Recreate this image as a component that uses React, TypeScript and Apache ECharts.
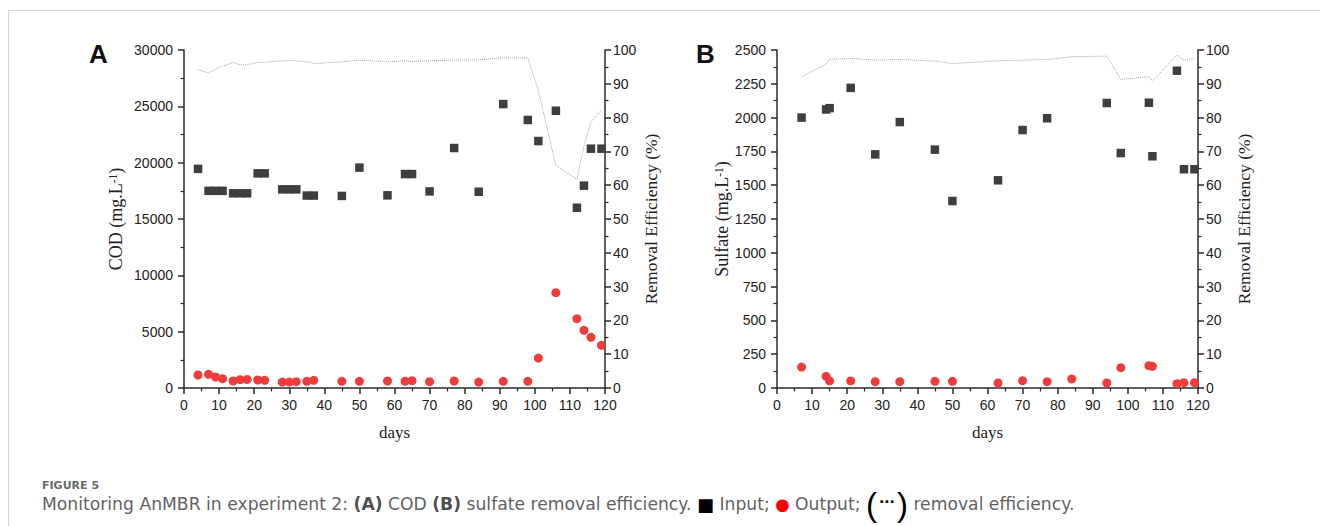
import React, { useEffect, useRef } from 'react';
import * as echarts from 'echarts';

// ---------- Panel A (COD) ----------
const daysA = [4, 7, 9, 11, 14, 16, 18, 21, 23, 28, 30, 32, 35, 37, 45, 50, 58, 63, 65, 70, 77, 84, 91, 98, 101, 106, 112, 114, 116, 119];
const inputA = [19450, 17500, 17500, 17500, 17280, 17280, 17280, 19050, 19050, 17630, 17630, 17630, 17080, 17080, 17050, 19560, 17100, 18990, 18990, 17450, 21300, 17420, 25200, 23790, 21920, 24610, 16000, 17960, 21240, 21240];
const outputA = [1155, 1210, 975, 825, 620, 740, 765, 710, 680, 530, 530, 560, 590, 680, 590, 590, 620, 590, 650, 560, 620, 530, 590, 590, 2660, 8460, 6150, 5120, 4500, 3790];
const effA = [94.2, 93.2, 94.4, 95.2, 96.3, 95.6, 95.6, 96.3, 96.4, 96.8, 96.9, 96.8, 96.5, 96.0, 96.5, 97.0, 96.5, 96.8, 96.6, 96.8, 97.0, 97.1, 97.7, 97.6, 88.0, 65.8, 61.8, 71.5, 78.8, 82.2];

// ---------- Panel B (Sulfate) ----------
const inDaysB = [7, 14, 15, 21, 28, 35, 45, 50, 63, 70, 77, 94, 98, 106, 107, 114, 116, 119];
const inputB = [2000, 2060, 2070, 2220, 1728, 1967, 1763, 1383, 1536, 1908, 1995, 2108, 1738, 2110, 1714, 2347, 1618, 1618];
const outDaysB = [7, 14, 15, 21, 28, 35, 45, 50, 63, 70, 77, 84, 94, 98, 106, 107, 114, 116, 119];
const outputB = [155, 86, 52, 52, 47, 47, 49, 49, 37, 54, 47, 67, 37, 150, 165, 160, 32, 39, 39];
const effB = [92.1, 95.8, 97.3, 97.5, 97.0, 97.2, 96.7, 96.0, 96.8, 97.0, 97.2, 98.0, 98.2, 91.3, 92.1, 90.8, 98.5, 97.0, 97.5];

// ---------- Axis settings ----------
const dayMin = 0, dayMax = 120, dayStep = 10;
const codMax = 30000, codStep = 5000;
const sulMax = 2500, sulStep = 250;
const effMax = 100, effStep = 10;

const pair = (xs: number[], ys: number[]) => xs.map((x, i) => [x, ys[i]]);

const AXIS_COLOR = '#2a2a2a';
const LABEL_FONT = 'Liberation Sans, Arial, sans-serif';
const NAME_FONT = 'Liberation Serif, Times New Roman, serif';
const plain = (v: number) => String(v);

const axisCommon = {
  axisLine: { show: true, onZero: false, lineStyle: { color: AXIS_COLOR, width: 1.5 } },
  axisTick: { show: true, inside: false, length: 6, lineStyle: { color: AXIS_COLOR, width: 1.5 } },
  minorTick: { show: true, splitNumber: 2, length: 3.5, lineStyle: { color: AXIS_COLOR, width: 1.2 } },
  splitLine: { show: false },
  minorSplitLine: { show: false },
};

const nameRich = {
  a: { fontFamily: NAME_FONT, fontSize: 18, color: '#222' },
  s: { fontFamily: NAME_FONT, fontSize: 11.5, color: '#222', verticalAlign: 'top' as const },
};

function xAxis(grid: number) {
  return {
    ...axisCommon,
    gridIndex: grid,
    type: 'value',
    min: dayMin,
    max: dayMax,
    interval: dayStep,
    name: 'days',
    nameLocation: 'middle',
    nameGap: 36,
    nameTextStyle: { fontFamily: NAME_FONT, fontSize: 17, color: '#222' },
    axisLabel: { fontFamily: LABEL_FONT, fontSize: 14, color: '#222', margin: 10, formatter: plain },
  };
}

function leftAxis(grid: number, max: number, step: number, label: string, gap: number) {
  return {
    ...axisCommon,
    gridIndex: grid,
    type: 'value',
    position: 'left',
    min: 0,
    max,
    interval: step,
    name: `{a|${label} (mg.L}{s|-1}{a|)}`,
    nameLocation: 'middle',
    nameRotate: 90,
    nameGap: gap,
    nameTextStyle: { rich: nameRich },
    axisLabel: { fontFamily: LABEL_FONT, fontSize: 14, color: '#222', margin: 11, formatter: plain },
  };
}

function rightAxis(grid: number) {
  return {
    ...axisCommon,
    gridIndex: grid,
    type: 'value',
    position: 'right',
    min: 0,
    max: effMax,
    interval: effStep,
    name: 'Removal Efficiency (%)',
    nameLocation: 'middle',
    nameRotate: 90,
    nameGap: 37,
    nameTextStyle: { fontFamily: NAME_FONT, fontSize: 17.5, color: '#222' },
    axisLabel: { fontFamily: LABEL_FONT, fontSize: 14, color: '#222', margin: 8, formatter: plain },
  };
}

function seriesFor(xIdx: number, yLeft: number, yRight: number, inD: number[], inV: number[], outD: number[], outV: number[], effD: number[], effV: number[]) {
  return [
    {
      type: 'line',
      xAxisIndex: xIdx,
      yAxisIndex: yRight,
      data: pair(effD, effV),
      symbol: 'none',
      lineStyle: { type: 'dotted', width: 1, color: '#a0a0a0' },
      z: 1,
    },
    {
      type: 'scatter',
      xAxisIndex: xIdx,
      yAxisIndex: yLeft,
      data: pair(inD, inV),
      symbol: 'rect',
      symbolSize: 8.5,
      itemStyle: { color: '#3e3e3e', opacity: 1 },
      z: 2,
    },
    {
      type: 'scatter',
      xAxisIndex: xIdx,
      yAxisIndex: yLeft,
      data: pair(outD, outV),
      symbol: 'circle',
      symbolSize: 9,
      itemStyle: { color: '#ee3b3b', opacity: 1 },
      z: 3,
    },
  ];
}

const CAP_FONT = 'DejaVu Sans, Verdana, sans-serif';

export default function App() {
  const ref = useRef<HTMLDivElement>(null);
  useEffect(() => {
    const chart = echarts.init(ref.current!, null, { renderer: 'svg' });
    const option: any = {
      animation: false,
      backgroundColor: '#ffffff',
      grid: [
        { left: 184, top: 50, width: 421, height: 338, containLabel: false },
        { left: 777, top: 50, width: 421, height: 338, containLabel: false },
      ],
      xAxis: [xAxis(0), xAxis(1)],
      yAxis: [
        leftAxis(0, codMax, codStep, 'COD', 59),
        rightAxis(0),
        leftAxis(1, sulMax, sulStep, 'Sulfate', 33),
        rightAxis(1),
      ],
      series: [
        ...seriesFor(0, 0, 1, daysA, inputA, daysA, outputA, daysA, effA),
        ...seriesFor(1, 2, 3, inDaysB, inputB, outDaysB, outputB, outDaysB, effB),
      ],
      graphic: [
        { type: 'line', shape: { x1: 8.5, y1: 10.5, x2: 1320, y2: 10.5 }, style: { stroke: '#d4d4d4', lineWidth: 1 } },
        { type: 'line', shape: { x1: 8.5, y1: 10.5, x2: 8.5, y2: 526 }, style: { stroke: '#d4d4d4', lineWidth: 1 } },
        { type: 'text', x: 89, y: 54, style: { text: 'A', fontFamily: LABEL_FONT, fontWeight: 'bold', fontSize: 26, fill: '#111', verticalAlign: 'middle' } },
        { type: 'text', x: 696, y: 54, style: { text: 'B', fontFamily: LABEL_FONT, fontWeight: 'bold', fontSize: 26, fill: '#111', verticalAlign: 'middle' } },
        { type: 'text', x: 42, y: 485, style: { text: 'FIGURE 5', fontFamily: CAP_FONT, fontWeight: 'bold', fontSize: 11, fill: '#6a6a6a', verticalAlign: 'middle' } },
        {
          type: 'text',
          x: 42,
          y: 504,
          style: {
            text: '{n|Monitoring AnMBR in experiment 2: }{b|(A)}{n| COD }{b|(B)}{n| sulfate removal efficiency. }{sq|■}{n| Input; }{ci|●}{n| Output; }{p|(}{d|···}{p|)}{n| removal efficiency.}',
            verticalAlign: 'middle',
            rich: {
              n: { fontFamily: CAP_FONT, fontSize: 17.2, fill: '#626262' },
              b: { fontFamily: CAP_FONT, fontSize: 17.2, fontWeight: 'bold', fill: '#505050' },
              sq: { fontFamily: 'DejaVu Sans, sans-serif', fontSize: 18, fill: '#000' },
              ci: { fontFamily: 'DejaVu Sans, sans-serif', fontSize: 16.5, fill: '#ff0000' },
              p: { fontFamily: 'Liberation Sans, sans-serif', fontSize: 33, fill: '#000' },
              d: { fontFamily: 'DejaVu Sans, sans-serif', fontSize: 14, fontWeight: 'bold', fill: '#000', verticalAlign: 'middle', padding: [0, 2, 5, 2] },
            },
          },
        },
      ],
    };
    chart.setOption(option);
    return () => chart.dispose();
  }, []);
  return <div ref={ref} style={{ position: 'absolute', left: 0, top: 0, width: 1320, height: 526, background: '#fff' }} />;
}
